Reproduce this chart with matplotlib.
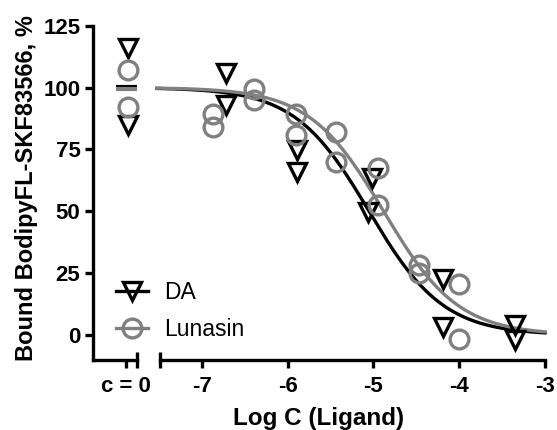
import numpy as np
import matplotlib
matplotlib.use('Agg')
import matplotlib.pyplot as plt
from matplotlib.lines import Line2D

plt.rcParams['font.family'] = ['Liberation Sans', 'DejaVu Sans']

# control (c = 0) values
da_ctrl = [115.8, 84.8]
lun_ctrl = [107.0, 92.2]

# DA points
da_x = [-6.72, -6.72, -5.89, -5.89, -5.01, -5.06, -4.19, -4.19, -3.35, -3.35]
da_y = [105.7, 92.9, 74.7, 66.0, 63.3, 49.8, 22.5, 3.1, 4.0, -2.0]

# Lunasin points
lun_x = [-6.87, -6.87, -6.39, -6.39, -5.90, -5.90, -5.43, -5.43,
         -4.95, -4.95, -4.47, -4.47, -4.00, -4.00]
lun_y = [89.5, 84.1, 99.6, 94.9, 89.5, 80.8, 82.1, 70.0,
         67.7, 52.5, 28.3, 25.0, 20.6, -1.6]

# fitted curve parameters (top, bottom, logIC50, hill)
da_fit = (100.0, 0.0, -5.05, 1.0)
lun_fit = (100.0, 0.0, -4.88, 1.0)

y_ticks = [0, 25, 50, 75, 100, 125]
x_ticks = [-7, -6, -5, -4, -3]
x_labels = ['-7', '-6', '-5', '-4', '-3']

gray = '#808080'
lw = 2.4


def sigmoid(x, p):
    top, bottom, logic50, hill = p
    return bottom + (top - bottom) / (1 + 10 ** ((x - logic50) * hill))


fig = plt.figure(figsize=(5.57, 4.30), dpi=100)
W, H = 557, 430
b = (H - 359.8) / H
h = (359.8 - 25.7) / H
ax0 = fig.add_axes([93 / W, b, (137 - 93) / W, h])
ax1 = fig.add_axes([160 / W, b, (545 - 160) / W, h], sharey=ax0)

ax0.set_xlim(-0.381, 0.132)
ax1.set_xlim(-7.486, -3)
ax0.set_ylim(-10, 125)

for ax in (ax0, ax1):
    for s in ('top', 'right'):
        ax.spines[s].set_visible(False)
    for s in ('left', 'bottom'):
        ax.spines[s].set_linewidth(lw)
    ax.tick_params(which='major', direction='out', length=6, width=lw,
                   labelsize=16, pad=6)
    ax.tick_params(which='minor', direction='inout', length=11, width=lw)
ax1.spines['left'].set_visible(False)
ax1.tick_params(axis='y', left=False, labelleft=False)

ax0.set_yticks(y_ticks)
ax0.set_yticklabels([str(t) for t in y_ticks], fontweight='bold')
ax0.tick_params(axis='y', pad=3)
ax0.set_xticks([0])
ax0.set_xticklabels(['c = 0'], fontweight='bold')
ax0.set_xticks([ax0.get_xlim()[1]], minor=True)

ax1.set_xticks(x_ticks)
ax1.set_xticklabels(x_labels, fontweight='bold')
ax1.set_xticks([ax1.get_xlim()[0]], minor=True)

ms_t, ms_c, mew = 13, 13.5, 2.4

# control column
ax0.hlines(np.mean(da_ctrl), -0.11, 0.13, color='black', lw=3, zorder=2)
ax0.hlines(np.mean(lun_ctrl), -0.11, 0.13, color=gray, lw=3, zorder=3)
ax0.plot([0.03] * len(da_ctrl), da_ctrl, 'v', ms=ms_t, mfc='none', mec='black',
         mew=mew, clip_on=False, zorder=4)
ax0.plot([0.03] * len(lun_ctrl), lun_ctrl, 'o', ms=ms_c, mfc='none', mec=gray,
         mew=mew, clip_on=False, zorder=4)

xs = np.linspace(-7.52, -3, 300)
ax1.plot(xs, sigmoid(xs, da_fit), color='black', lw=2.4, clip_on=False, zorder=3)
ax1.plot(xs, sigmoid(xs, lun_fit), color=gray, lw=2.4, clip_on=False, zorder=3)
ax1.plot(da_x, da_y, 'v', ms=ms_t, mfc='none', mec='black', mew=mew,
         clip_on=False, zorder=4)
ax1.plot(lun_x, lun_y, 'o', ms=ms_c, mfc='none', mec=gray, mew=mew,
         clip_on=False, zorder=4)

handles = [Line2D([], [], color='black', lw=lw, marker='v', ms=ms_t, mfc='none',
                  mec='black', mew=mew),
           Line2D([], [], color=gray, lw=lw, marker='o', ms=ms_c, mfc='none',
                  mec=gray, mew=mew)]
fig.legend(handles, ['DA', 'Lunasin'], loc='upper left',
           bbox_to_anchor=(116 / W, (H - 281) / H), bbox_transform=fig.transFigure,
           frameon=False, fontsize=16.5, handlelength=1.4, handletextpad=0.7,
           labelspacing=0.6, borderpad=0, borderaxespad=0)

fig.text(319 / W, (H - 418) / H, 'Log C (Ligand)', ha='center', va='center',
         fontsize=17.5, fontweight='bold')
fig.text(27 / W, (H - 188) / H, 'Bound BodipyFL-SKF83566, %', ha='center',
         va='center', rotation=90, fontsize=17, fontweight='bold')

fig.savefig('out.png', dpi=100)
